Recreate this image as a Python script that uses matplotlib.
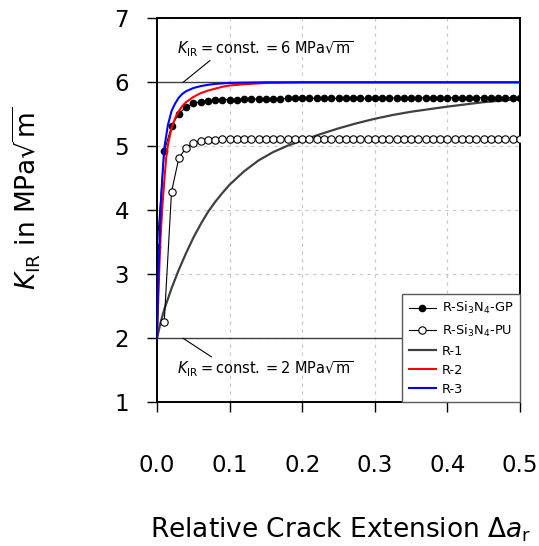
import numpy as np
import matplotlib
matplotlib.use("Agg")
import matplotlib.pyplot as plt

plt.rcParams["font.family"] = "DejaVu Sans"
plt.rcParams["mathtext.fontset"] = "dejavusans"

x_meas = np.round(np.arange(0, 51) * 0.01, 2)
k_gp = [3.42, 4.92, 5.32, 5.51, 5.61, 5.67, 5.70, 5.71, 5.72, 5.73,
        5.73, 5.73, 5.74, 5.74, 5.74, 5.74, 5.74, 5.74, 5.75, 5.75,
        5.75, 5.75, 5.75, 5.75, 5.75, 5.75, 5.75, 5.75, 5.75, 5.75,
        5.75, 5.75, 5.75, 5.76, 5.76, 5.76, 5.76, 5.76, 5.76, 5.76,
        5.76, 5.76, 5.76, 5.76, 5.76, 5.76, 5.76, 5.76, 5.76, 5.76,
        5.76]
x_pu = x_meas[1:]
k_pu = [2.26, 4.29, 4.81, 4.98, 5.05, 5.08, 5.10, 5.10, 5.11, 5.11,
        5.11, 5.11, 5.11, 5.11, 5.11, 5.11, 5.11, 5.11, 5.11, 5.11,
        5.11, 5.11, 5.11, 5.11, 5.11, 5.11, 5.11, 5.11, 5.11, 5.11,
        5.11, 5.11, 5.11, 5.11, 5.11, 5.11, 5.11, 5.11, 5.11, 5.11,
        5.11, 5.11, 5.11, 5.11, 5.11, 5.11, 5.11, 5.11, 5.11, 5.11]

# model curves R-1, R-2, R-3
x_r1 = [0.0, 0.005, 0.01, 0.02, 0.03, 0.04, 0.05, 0.06, 0.07, 0.08, 0.09,
        0.10, 0.12, 0.14, 0.16, 0.18, 0.20, 0.225, 0.25, 0.275, 0.30,
        0.325, 0.35, 0.40, 0.45, 0.50]
k_r1 = [2.00, 2.25, 2.45, 2.78, 3.07, 3.33, 3.57, 3.78, 3.97, 4.13, 4.27,
        4.40, 4.61, 4.78, 4.91, 5.01, 5.09, 5.19, 5.28, 5.36, 5.43,
        5.49, 5.54, 5.62, 5.69, 5.74]
x_r2 = [0.0, 0.0025, 0.005, 0.0075, 0.01, 0.0125, 0.015, 0.02, 0.025, 0.03,
        0.035, 0.04, 0.05, 0.06, 0.07, 0.08, 0.09, 0.10, 0.12, 0.15, 0.20,
        0.30, 0.50]
k_r2 = [2.00, 2.90, 3.60, 4.08, 4.45, 4.80, 5.02, 5.28, 5.44, 5.55,
        5.63, 5.69, 5.77, 5.83, 5.87, 5.90, 5.93, 5.95, 5.97, 5.99, 6.00,
        6.00, 6.00]
x_r3 = [0.0, 0.0025, 0.005, 0.0075, 0.01, 0.015, 0.02, 0.025, 0.03, 0.035,
        0.04, 0.05, 0.06, 0.07, 0.08, 0.10, 0.12, 0.15, 0.20, 0.30, 0.50]
k_r3 = [2.00, 3.20, 4.05, 4.55, 4.97, 5.33, 5.55, 5.67, 5.76, 5.82,
        5.86, 5.91, 5.94, 5.96, 5.975, 5.99, 5.995, 6.00, 6.00, 6.00, 6.00]

k_low = 2
k_high = 6

fig = plt.figure(figsize=(5.39, 5.46), dpi=100)
ax = fig.add_axes([157 / 539, 1 - 402.3 / 546, 363 / 539, 384 / 546])

ax.axhline(k_high, color="0.25", lw=1.0, zorder=2)
ax.axhline(k_low, color="0.25", lw=1.0, zorder=2)

ax.plot(x_r1, k_r1, color="#404040", lw=1.6, label="R-1", zorder=3)
ax.plot(x_meas, k_gp, color="k", lw=0.8, marker="o", ms=4.5,
        mfc="k", mec="k", label=r"R-Si$_3$N$_4$-GP", zorder=4)
ax.plot(x_pu, k_pu, color="k", lw=0.8, marker="o", ms=5.3,
        mfc="white", mec="k", mew=0.8, label=r"R-Si$_3$N$_4$-PU", zorder=4)
ax.plot(x_r2, k_r2, color="#ff0000", lw=1.5, label="R-2", zorder=5)
ax.plot(x_r3, k_r3, color="#0000ff", lw=1.5, label="R-3", zorder=6)

ax.annotate("", xy=(0.036, k_high), xytext=(0.073, 6.34),
            arrowprops=dict(arrowstyle="-", color="k", lw=0.8,
                            shrinkA=0, shrinkB=0))
ax.annotate("", xy=(0.036, k_low), xytext=(0.075, 1.71),
            arrowprops=dict(arrowstyle="-", color="k", lw=0.8,
                            shrinkA=0, shrinkB=0))
ax.text(0.149, 6.52, r"$K_{\mathrm{IR}} = \mathrm{const.} = 6\ \mathrm{MPa}\sqrt{\mathrm{m}}$",
        fontsize=10.5, ha="center", va="center")
ax.text(0.149, 1.52, r"$K_{\mathrm{IR}} = \mathrm{const.} = 2\ \mathrm{MPa}\sqrt{\mathrm{m}}$",
        fontsize=10.5, ha="center", va="center")

ax.set_xlim(0, 0.5)
ax.set_ylim(1, 7)
ax.set_xticks([0.0, 0.1, 0.2, 0.3, 0.4, 0.5])
ax.set_xticklabels(["0.0", "0.1", "0.2", "0.3", "0.4", "0.5"])
ax.set_yticks([1, 2, 3, 4, 5, 6, 7])
ax.tick_params(axis="x", direction="out", length=7, width=1, labelsize=16.5, pad=30)
ax.tick_params(axis="y", direction="out", length=7, width=1, labelsize=16.5, pad=13)
ax.grid(True, color="#c8c8c8", ls=(0, (3, 4)), lw=0.8)
for s in ax.spines.values():
    s.set_linewidth(1.4)

ax.set_xlabel(r"Relative Crack Extension $\Delta a_{\mathrm{r}}$", fontsize=19)
ax.xaxis.set_label_coords(0.507, -0.295)
ax.set_ylabel(r"$K_{\mathrm{IR}}$ in MPa$\sqrt{\mathrm{m}}$", fontsize=19)
ax.yaxis.set_label_coords(-0.315, 0.53)

handles, labels = ax.get_legend_handles_labels()
order = [1, 2, 0, 3, 4]
leg = ax.legend([handles[i] for i in order], [labels[i] for i in order],
                loc="lower right", fontsize=9.3, fancybox=False,
                framealpha=1, edgecolor="0.35", borderaxespad=0,
                handlelength=2.1, handletextpad=0.5, labelspacing=0.47,
                borderpad=0.5)
leg.get_frame().set_linewidth(1.0)

fig.savefig("out.png", dpi=100)
